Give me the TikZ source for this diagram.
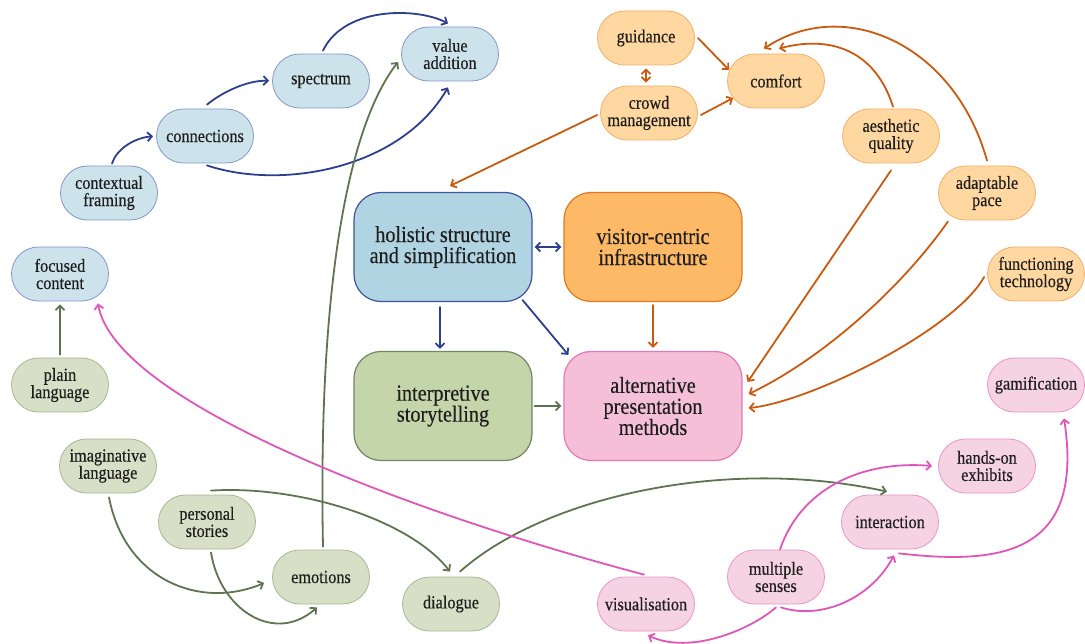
\documentclass[tikz,border=0pt]{standalone}
\usepackage{fontspec}
\setmainfont{Liberation Serif}[FakeStretch=0.88,FakeBold=0.35]
\usetikzlibrary{arrows.meta}
\definecolor{txt}{HTML}{1E1E1E}
\definecolor{blueF}{HTML}{CDE3EC}
\definecolor{blueB}{HTML}{8497CC}
\definecolor{blueBigF}{HTML}{B1D4E2}
\definecolor{blueBigB}{HTML}{3E549E}
\definecolor{blueA}{HTML}{2C3F8E}
\definecolor{orF}{HTML}{FFD7A0}
\definecolor{orB}{HTML}{F2AE6C}
\definecolor{orBigF}{HTML}{FDB966}
\definecolor{orBigB}{HTML}{E07A22}
\definecolor{orA}{HTML}{C95A10}
\definecolor{grF}{HTML}{D7E0C7}
\definecolor{grB}{HTML}{A8B893}
\definecolor{grBigF}{HTML}{C5D5AA}
\definecolor{grBigB}{HTML}{718662}
\definecolor{grA}{HTML}{5E7450}
\definecolor{pkF}{HTML}{F6D3E3}
\definecolor{pkB}{HTML}{EC93C6}
\definecolor{pkBigF}{HTML}{F4BFD7}
\definecolor{pkBigB}{HTML}{E478BA}
\definecolor{pkA}{HTML}{E056B8}
\tikzset{
  small/.style={rectangle, rounded corners=27pt, minimum width=97pt, minimum height=54pt,
    inner sep=0pt, align=center, text=txt, line width=0.8pt,
    font=\fontsize{18.5}{17.2}\selectfont},
  big/.style={rectangle, rounded corners=27pt, minimum width=178pt, minimum height=109pt,
    inner sep=0pt, align=center, text=txt, line width=1.2pt,
    font=\fontsize{23}{21}\selectfont},
  bs/.style={small, draw=blueB, fill=blueF},
  os/.style={small, draw=orB, fill=orF},
  gs/.style={small, draw=grB, fill=grF},
  ps/.style={small, draw=pkB, fill=pkF},
  arr/.style={line width=1.8pt, line cap=round, -{Straight Barb[length=4.5pt,width=9pt]}},
  dbl/.style={{Straight Barb[length=4.5pt,width=9pt]}-{Straight Barb[length=4.5pt,width=9pt]}},
  barr/.style={arr, draw=blueA},
  oarr/.style={arr, draw=orA},
  garr/.style={arr, draw=grA},
  parr/.style={arr, draw=pkA},
}
\begin{document}
\begin{tikzpicture}[x=1pt,y=-1pt]
\useasboundingbox (0,0) rectangle (1085,644);
% blue
\node[bs] (va) at (450,54) {value\\addition};
\node[bs] (spec) at (321,81) {spectrum};
\node[bs] (conn) at (205,136) {connections};
\node[bs] (ctx) at (109,193) {contextual\\framing};
\node[bs] (foc) at (60,274) {focused\\content};
\node[big, draw=blueBigB, fill=blueBigF] (hol) at (443,247) {holistic structure\\and simplification};
% orange
\node[os] (guid) at (646,38) {guidance};
\node[os] (crowd) at (649,113) {crowd\\management};
\node[os] (comf) at (776,81) {comfort};
\node[os] (aest) at (891,136) {aesthetic\\quality};
\node[os] (adapt) at (987,193) {adaptable\\pace};
\node[os] (func) at (1036,274) {functioning\\technology};
\node[big, draw=orBigB, fill=orBigF] (vis) at (653,247) {visitor-centric\\infrastructure};
% green
\node[gs] (plain) at (60,385) {plain\\language};
\node[gs] (imag) at (108,466) {imaginative\\language};
\node[gs] (pers) at (207,522) {personal\\stories};
\node[gs] (emo) at (321,577) {emotions};
\node[gs] (dia) at (451,604) {dialogue};
\node[big, draw=grBigB, fill=grBigF] (interp) at (443,406) {interpretive\\storytelling};
% pink
\node[big, draw=pkBigB, fill=pkBigF] (alt) at (653,406) {alternative\\presentation\\methods};
\node[ps] (gam) at (1036,385) {gamification};
\node[ps] (hands) at (987,466) {hands-on\\exhibits};
\node[ps] (inter) at (890,522) {interaction};
\node[ps] (multi) at (776,577) {multiple\\senses};
\node[ps] (visu) at (646,604) {visualisation};

% blue connectors
\draw[barr, shorten >=3pt] ([xshift=3pt,yshift=2pt]ctx.north) .. controls (116,150) and (133,138) .. (conn.west);
\draw[barr, shorten >=3pt] ([xshift=2pt,yshift=4pt]conn.north) .. controls (225,90) and (250,80) .. (spec.west);
\draw[barr] ([xshift=2pt,yshift=3pt]spec.north) .. controls (345,5) and (420,8) .. ([xshift=-2pt,yshift=3pt]va.north);
\draw[barr] ([xshift=2pt,yshift=-2pt]conn.south) .. controls (280,190) and (400,170) .. ([xshift=-2pt,yshift=-6pt]va.south);
\draw[barr, dbl, shorten <=2pt, shorten >=2pt] (hol.east) -- (vis.west);
\draw[barr, shorten <=5pt, shorten >=2pt] ([xshift=-3pt]hol.south) -- ([xshift=-3pt]interp.north);
\draw[barr] ([xshift=-10pt,yshift=2pt]hol.south east) -- ([xshift=5pt,yshift=-4pt]alt.north west);

% orange connectors
\draw[oarr, dbl, shorten <=3pt, shorten >=3pt] (guid.south) -- (guid.south |- crowd.north);
\draw[oarr] ([xshift=3pt]guid.east) -- ([xshift=2pt,yshift=11pt]comf.west);
\draw[oarr] ([xshift=3pt,yshift=-2pt]crowd.east) -- ([xshift=6pt,yshift=-17pt]comf.west);
\draw[oarr] ([xshift=-3pt,yshift=-2pt]crowd.west) -- ([xshift=7pt,yshift=6pt]hol.north);
\draw[oarr] ([xshift=2pt,yshift=2pt]aest.north) .. controls (875,50) and (830,35) .. ([xshift=3pt,yshift=5pt]comf.north);
\draw[oarr] ([yshift=5pt]adapt.north) .. controls (955,45) and (845,-5) .. ([xshift=-12pt,yshift=5pt]comf.north);
\draw[oarr] ([yshift=-7pt]aest.south) -- ([xshift=5pt,yshift=24pt]alt.east);
\draw[oarr] ([xshift=-39pt,yshift=-1pt]adapt.south) .. controls (900,290) and (820,360) .. ([xshift=6pt,yshift=12pt]alt.east);
\draw[oarr] ([xshift=-3pt,yshift=-3pt]func.west) .. controls (955,330) and (810,402) .. ([xshift=6pt,yshift=-2pt]alt.east);
\draw[oarr, shorten <=3pt, shorten >=3pt] (vis.south) -- (alt.north);

% green connectors
\draw[garr, shorten <=3pt, shorten >=3pt] (plain.north) -- (foc.south);
\draw[garr, shorten <=2pt, shorten >=2pt] (interp.east) -- (alt.west);
\draw[garr] ([xshift=2pt,yshift=3pt]emo.north) .. controls (318,300) and (345,130) .. ([xshift=-3pt,yshift=-8pt]va.west);
\draw[garr] ([xshift=1pt,yshift=-4pt]imag.south) .. controls (125,580) and (200,610) .. ([xshift=-8pt,yshift=-6pt]emo.west);
\draw[garr] ([xshift=4pt,yshift=-3pt]pers.south) .. controls (220,610) and (275,645) .. ([xshift=-4pt,yshift=-3pt]emo.south);
\draw[garr] ([xshift=4pt,yshift=4pt]pers.north) .. controls (300,485) and (410,520) .. ([xshift=-1pt,yshift=5pt]dia.north);
\draw[garr] ([xshift=9pt,yshift=5pt]dia.north) .. controls (540,500) and (720,455) .. ([xshift=-3pt,yshift=3pt]inter.north);

% pink connectors
\draw[parr] ([xshift=-2pt,yshift=2pt]visu.north) .. controls (400,510) and (115,400) .. ([xshift=38pt,yshift=-2pt]foc.south);
\draw[parr] ([xshift=4pt]multi.north) .. controls (800,490) and (860,460) .. ([xshift=-6pt]hands.west);
\draw[parr] ([xshift=5pt,yshift=-3pt]multi.south) .. controls (820,620) and (870,600) .. ([xshift=4pt,yshift=-6pt]inter.south);
\draw[parr] ([yshift=-3pt]multi.south) .. controls (750,630) and (690,655) .. ([xshift=2pt,yshift=-4pt]visu.south);
\draw[parr] ([xshift=9pt,yshift=-4pt]inter.south) .. controls (1000,565) and (1085,555) .. ([xshift=28pt,yshift=-6pt]gam.south);
\end{tikzpicture}
\end{document}
